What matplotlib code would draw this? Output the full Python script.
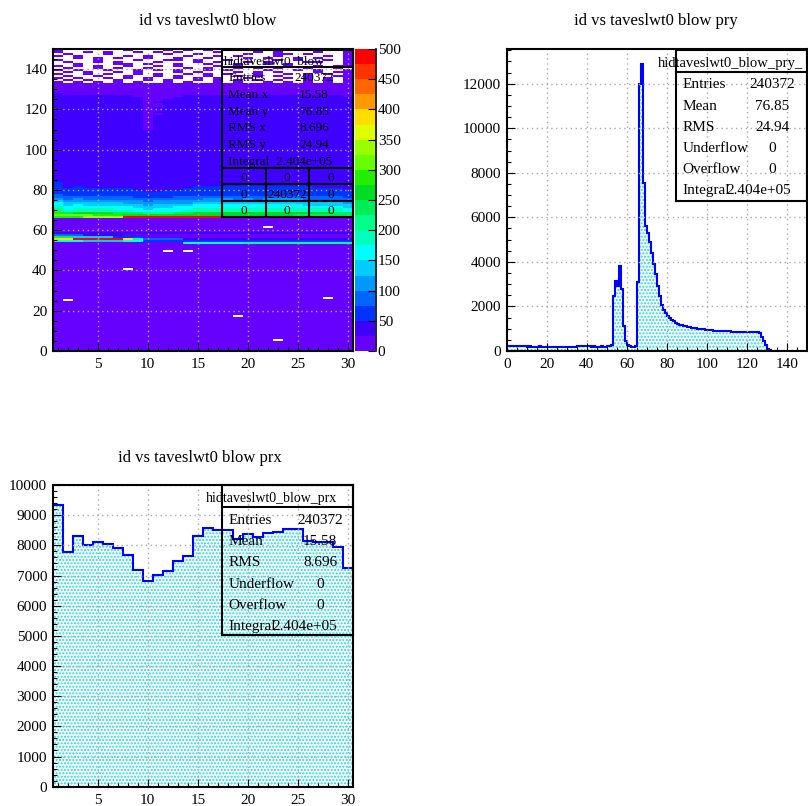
import numpy as np
import matplotlib
matplotlib.use('Agg')
import matplotlib.pyplot as plt
from matplotlib.colors import ListedColormap, BoundaryNorm
from matplotlib.cm import ScalarMappable
from matplotlib.lines import Line2D
from matplotlib.ticker import MultipleLocator

plt.rcParams['font.family'] = ['Liberation Serif', 'DejaVu Serif']
plt.rcParams['hatch.color'] = '#19d9e6'
plt.rcParams['hatch.linewidth'] = 1.0

# ---- data ----
# projection on y (id), 150 bins of width 1
pry_counts = [
    230, 235, 225, 230, 220, 225, 215, 210, 215, 205,
    200, 205, 195, 200, 200, 195, 205, 200, 190, 195,
    190, 195, 190, 185, 195, 190, 190, 185, 195, 190,
    195, 190, 200, 195, 200, 205, 210, 215, 225, 220,
    215, 205, 200, 205, 200, 195, 200, 205, 195, 200,
    210, 220, 260, 2450, 3150, 2900, 3800, 2800, 1100, 450,
    280, 230, 200, 200, 210, 3100, 12000, 12900, 7550, 5600,
    5300, 4900, 4400, 3900, 3450, 2900, 2450, 2050, 1850, 1700,
    1580, 1480, 1400, 1330, 1270, 1200, 1170, 1150, 1120, 1100,
    1080, 1060, 1040, 1030, 1020, 1000, 990, 980, 970, 960,
    950, 940, 930, 920, 920, 910, 900, 900, 890, 890,
    880, 880, 870, 870, 860, 860, 860, 850, 870, 850,
    860, 850, 850, 860, 850, 840, 790, 650, 470, 280,
    90, 30, 15, 12, 10, 10, 12, 10, 9, 10,
    9, 10, 10, 9, 10, 9, 10, 10, 9, 10,
]
# projection on x (taveslwt0), 30 bins
prx_counts = [
    9330, 7790, 8306, 8007, 8106, 8053, 7907, 7664, 7199, 6811,
    7023, 7133, 7465, 7641, 8296, 8561, 8505, 8495, 8219, 8385,
    8280, 8418, 8452, 8551, 8540, 8160, 8120, 8100, 7950, 7260,
]

# 2D rows with structure that the projections do not show (row -> 30 cells)
band_rows = {
    53: [15] * 13 + [165] * 6 + [215] * 11,
    54: [170] * 3 + [130] * 4 + [170] * 2 + [60] * 21,
    55: [390] * 2 + [490] * 5 + [380, 200] + [90] * 4 + [40] * 17,
    56: [230] * 2 + [140] * 4 + [60] * 3 + [15] * 21,
    57: [90] * 3 + [40] * 4 + [10] * 23,
    65: [10] * 30,
    66: [280] * 3 + [340] * 4 + [490] * 18 + [330] * 3 + [230] * 2,
    67: [320] * 4 + [280] * 3 + [250] * 17 + [230] * 6,
}
# empty cells in the filled part (x bin, y bin)
empty_cells = [(2, 25), (28, 26), (8, 40), (12, 49), (14, 49), (19, 17), (22, 61), (23, 5)]
# sparse top rows 149 .. 133, '#' = cell with entries
top_rows = [
    "#......#...#.#.#.#.....#..#.##",
    "#..#.#..#.#.#...#...#.#...#..#",
    ".#...#.....#..#....#..##.#...#",
    "#.#....#.#...#..#.#...#....#.#",
    "..#.#.#..#..#..#...#.#..#.#..#",
    "#...#...#..##.#..#....#.#..#.#",
    ".#..#.#...#...#.#..#.#...##..#",
    "..#...##.#..#..#..#..#.#.....#",
    "#.#.#..#..#.#...#.#....#..#.##",
    ".#..#.#..#...#.#..#.#.#..#..#.",
    "#.#..#..#.#.#..#.#...#..#.#..#",
    ".#.#..#.#...#.#...#.#.#...#.##",
    "#..#.#..#.#..#.#.#..#..#.#.#.#",
    ".#..#..#..#.#..#..#.#.#..#..##",
    "#.#..#.#.#..#.#.#..#...#.#.#.#",
    ".#.#..#..#.#..#.#.#.#.#..#.#.#",
    "#.#.#.#.#..#.#..#.#..#.#.#.#.#",
]

palette = [
    '#6600ff', '#4000ff', '#0033ff', '#0066ff', '#0099ff',
    '#00ccff', '#00ffff', '#00ffbb', '#00ff88', '#00ee55',
    '#00dd22', '#22ee00', '#66ff00', '#99ff00', '#ddff00',
    '#ffdd00', '#ff9900', '#ff6600', '#ff3300', '#ff0000',
]
levels = list(range(0, 501, 25))

stats2d_labels = ['Entries', 'Mean x', 'Mean y', 'RMS x', 'RMS y']
stats2d_values = ['240372', '15.58', '76.85', '8.696', '24.94']
stats2d_grid = [['0', '0', '0'], ['0', '240372', '0'], ['0', '0', '0']]
stats1d_labels = ['Entries', 'Mean', 'RMS', 'Underflow', 'Overflow']
statsy_values = ['240372', '76.85', '24.94', '0', '0']
statsx_values = ['240372', '15.58', '8.696', '0', '0']
integral_text = '2.404e+05'

# ---- figure helpers (pixel coords of the 808x806 canvas) ----
W, H = 808, 806
fig = plt.figure(figsize=(W / 100, H / 100), dpi=100)


def fx(x):
    return x / W


def fy(y):
    return 1 - y / H


def ftext(x, y, s, size=11, ha='left'):
    fig.text(fx(x), fy(y), s, fontsize=size, ha=ha, va='center_baseline')


def fline(x0, y0, x1, y1, lw=1.5):
    fig.add_artist(Line2D([fx(x0), fx(x1)], [fy(y0), fy(y1)], color='black',
                          lw=lw, transform=fig.transFigure))


def fbox(x0, y0, x1, y1, lw=1.5):
    fline(x0, y0, x1, y0, lw)
    fline(x1, y0, x1, y1, lw)
    fline(x1, y1, x0, y1, lw)
    fline(x0, y1, x0, y0, lw)


def add_axes(x0, y0, x1, y1):
    return fig.add_axes([fx(x0), fy(y1), fx(x1) - fx(x0), fy(y0) - fy(y1)])


def root_style(ax, xmaj, xmin, ymaj, ymin):
    ax.xaxis.set_major_locator(MultipleLocator(xmaj))
    ax.xaxis.set_minor_locator(MultipleLocator(xmin))
    ax.yaxis.set_major_locator(MultipleLocator(ymaj))
    ax.yaxis.set_minor_locator(MultipleLocator(ymin))
    ax.tick_params(which='both', direction='in', width=0.8, labelsize=11)
    ax.tick_params(which='major', length=5.5)
    ax.tick_params(which='minor', length=2.8)
    ax.tick_params(axis='y', pad=4)
    ax.tick_params(axis='x', pad=5)
    ax.grid(True, which='major', color='#aaaaaa', ls=(0, (1, 2.5)), lw=1)
    ax.set_axisbelow(False)
    for sp in ax.spines.values():
        sp.set_linewidth(1.5)
        sp.set_zorder(5)


# ---- pad 1: 2D colz ----
prx = np.array(prx_counts, float)
pry = np.array(pry_counts, float)
# smooth part of the 2D map taken from the two projections
cells = np.outer(pry, prx / prx.sum())
for row, vals in band_rows.items():
    cells[row] = vals
for xb, yb in empty_cells:
    cells[yb, xb - 1] = 0
for k, line in enumerate(top_rows):
    cells[149 - k] = [1 if c == '#' else 0 for c in line]
cells = np.ma.masked_equal(np.clip(cells, 0, 499), 0)

cmap = ListedColormap(palette)
norm = BoundaryNorm(levels, cmap.N)
ax1 = add_axes(52.7, 49, 353, 351)
ax1.pcolormesh(np.arange(0.5, 31), np.arange(0, 151), cells, cmap=cmap, norm=norm)
ax1.set_xlim(0.5, 30.5)
ax1.set_ylim(0, 150)
root_style(ax1, 5, 1, 20, 5)

cax = add_axes(355, 49, 375, 351)
cb = fig.colorbar(ScalarMappable(norm=norm, cmap=cmap), cax=cax, ticks=range(0, 501, 50))
cb.outline.set_visible(False)
cax.tick_params(direction='in', length=5, width=0.8, labelsize=11, pad=2, right=True)
cax.minorticks_off()
fline(375.5, 49, 375.5, 351, 1.2)

# stats box pad 1
bx0, bx1 = 221.7, 353.3
fbox(bx0, 50, bx1, 217.3)
fline(bx0, 66.7, bx1, 66.7)
ftext(274.7, 59.5, 'hidtaveslwt0_blow', 9.5, 'center')
for i, (lab, val) in enumerate(zip(stats2d_labels, stats2d_values)):
    y = 76.7 + i * 16.7
    ftext(228.3, y, lab, 9.5)
    ftext(314, y, val, 9.5, 'center')
ftext(228.3, 160, 'Integral  ' + integral_text, 9.5)
for yl in (167.7, 184.3, 201):
    fline(bx0, yl, bx1, yl)
for xl in (265.7, 309):
    fline(xl, 167.7, xl, 217.3)
for r, row in enumerate(stats2d_grid):
    for c, val in enumerate(row):
        ftext([243.7, 287.3, 331.2][c], 176.5 + r * 16.6, val, 9.5, 'center')

ftext(208, 19, 'id vs taveslwt0 blow', 12, 'center')

# ---- pad 2: projection on y ----
ax2 = add_axes(506.7, 49.3, 806.7, 351)
edges_y = np.arange(0, 151)
ax2.stairs(pry, edges_y, fill=True, facecolor='white', edgecolor='#19d9e6',
           hatch='.....', linewidth=0)
ax2.stairs(pry, edges_y, color='#0000ff', lw=1.5, baseline=None)
ax2.set_xlim(0, 150)
ax2.set_ylim(0, pry.max() * 1.05)
root_style(ax2, 20, 5, 2000, 500)

fbox(675.7, 50, 806.5, 200.7)
fline(675.7, 71.7, 806.5, 71.7)
ftext(730.8, 62.5, 'hidtaveslwt0_blow_pry_', 10.5, 'center')
for i, (lab, val) in enumerate(zip(stats1d_labels, statsy_values)):
    y = 83.3 + i * 21.2
    ftext(682.3, y, lab, 11)
    ftext(772, y, val, 11, 'center')
ftext(682.3, 189.3, 'Integral', 11)
ftext(790.7, 189.3, integral_text, 11, 'right')

ftext(656, 19, 'id vs taveslwt0 blow pry', 12, 'center')

# ---- pad 3: projection on x ----
ax3 = add_axes(52.7, 485, 353, 786.7)
edges_x = np.arange(0.5, 31)
ax3.stairs(prx, edges_x, fill=True, facecolor='white', edgecolor='#19d9e6',
           hatch='.....', linewidth=0)
ax3.stairs(prx, edges_x, color='#0000ff', lw=1.5, baseline=None)
ax3.set_xlim(0.5, 30.5)
ax3.set_ylim(0, 10000)
root_style(ax3, 5, 1, 1000, 200)

fbox(221.7, 485, 352.7, 635)
fline(221.7, 506.7, 352.7, 506.7)
ftext(271.7, 497.3, 'hidtaveslwt0_blow_prx', 10, 'center')
for i, (lab, val) in enumerate(zip(stats1d_labels, statsx_values)):
    y = 519 + i * 21.2
    ftext(228.3, y, lab, 11)
    ftext(320, y, val, 11, 'center')
ftext(228.3, 625, 'Integral', 11)
ftext(337.3, 625, integral_text, 11, 'right')

ftext(200, 456, 'id vs taveslwt0 blow prx', 12, 'center')

fig.savefig('out.png', dpi=100)
